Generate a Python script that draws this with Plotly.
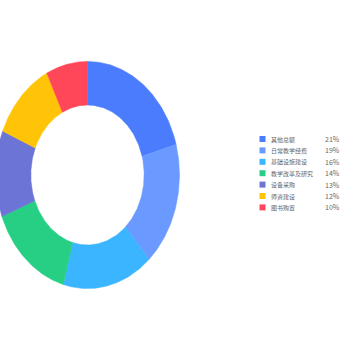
import numpy as np
import plotly.graph_objects as go

categories = ["其他总额", "日常教学经费", "基础设施建设", "教学改革及研究", "设备采购", "师资建设", "图书购置"]
values = [20.7, 17.7, 15.9, 14.8, 12.3, 11.4, 7.3]
pct_labels = ["21%", "19%", "16%", "14%", "13%", "12%", "10%"]
colors = ["#4C7CFE", "#6A9AFF", "#3BB5FF", "#26CF84", "#6C74D6", "#FFC407", "#FF4759"]

# layout geometry (pixel space)
CX, CY = 87.5, 175.0
RX, RY = 92.0, 113.6
HOLE = 0.616

fig = go.Figure()
total = sum(values)
start = 0.0
for name, v, c in zip(categories, values, colors):
    a0 = start / total * 2 * np.pi
    a1 = (start + v) / total * 2 * np.pi
    t = np.linspace(a0, a1, 80)
    xo = CX + RX * np.sin(t)
    yo = CY - RY * np.cos(t)
    xi = CX + RX * HOLE * np.sin(t[::-1])
    yi = CY - RY * HOLE * np.cos(t[::-1])
    xs = np.concatenate([xo, xi, xo[:1]])
    ys = np.concatenate([yo, yi, yo[:1]])
    fig.add_trace(go.Scatter(x=xs, y=ys, fill="toself", fillcolor=c, mode="lines",
                             line=dict(color=c, width=0.5), hoverinfo="text",
                             text=name, showlegend=False))
    start += v

# legend
LX, LY0, LDY = 262.5, 139.0, 11.4
rows_y = [LY0 + i * LDY for i in range(len(categories))]
fig.add_trace(go.Scatter(x=[LX] * len(categories), y=rows_y, mode="markers",
                         marker=dict(symbol="square", size=6, color=colors),
                         hoverinfo="skip", showlegend=False))
for name, p, y in zip(categories, pct_labels, rows_y):
    fig.add_annotation(x=269, y=y, text=name, showarrow=False, xanchor="left", yanchor="middle",
                       font=dict(size=6, color="#666666", family="Noto Sans CJK SC"))
    fig.add_annotation(x=342, y=y, text=p, showarrow=False, xanchor="right", yanchor="middle",
                       font=dict(size=7, color="#666666", family="Noto Sans CJK SC"))

fig.update_layout(
    width=350, height=350, margin=dict(l=0, r=0, t=0, b=0),
    paper_bgcolor="white", plot_bgcolor="white",
    xaxis=dict(range=[0, 350], visible=False, fixedrange=True),
    yaxis=dict(range=[350, 0], visible=False, fixedrange=True),
)
fig.write_html("out.html")
